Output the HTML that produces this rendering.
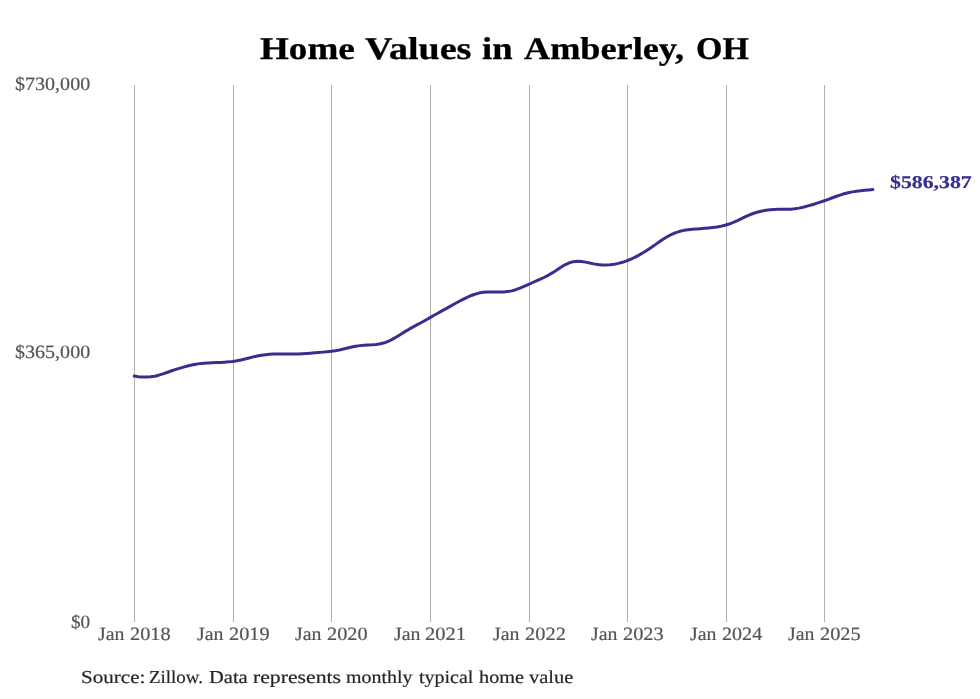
<!DOCTYPE html>
<html lang="en">
<head>
<meta charset="utf-8">
<title>Home Values in Amberley, OH</title>
<style>
html,body{margin:0;padding:0;background:#ffffff;}
#chart{position:relative;width:980px;height:699px;overflow:hidden;background:#ffffff;font-family:"Liberation Serif",serif;}
#chart svg{position:absolute;left:0;top:0;display:block;}
.g{position:absolute;left:0;top:0;margin:0;padding:0;width:980px;height:0;font-family:"Liberation Serif",serif;font-style:normal;text-rendering:geometricPrecision;}
.g span{position:absolute;display:block;white-space:nowrap;transform-origin:0 0;will-change:transform;}
</style>
</head>
<body>
<div id="chart">
<svg width="980" height="699" viewBox="0 0 980 699">
<rect x="0" y="0" width="980" height="699" fill="#ffffff"/>
<g shape-rendering="crispEdges"><rect x="134" y="84.5" width="1" height="537.0" fill="#b0b0b0"/><rect x="233" y="84.5" width="1" height="537.0" fill="#b0b0b0"/><rect x="331" y="84.5" width="1" height="537.0" fill="#b0b0b0"/><rect x="430" y="84.5" width="1" height="537.0" fill="#b0b0b0"/><rect x="529" y="84.5" width="1" height="537.0" fill="#b0b0b0"/><rect x="627" y="84.5" width="1" height="537.0" fill="#b0b0b0"/><rect x="726" y="84.5" width="1" height="537.0" fill="#b0b0b0"/><rect x="824" y="84.5" width="1" height="537.0" fill="#b0b0b0"/></g>
<path d="M134.2 376.10 L138.3 376.67 L142.4 377.03 L146.5 377.09 L150.6 376.83 L154.7 376.19 L158.8 375.19 L162.9 373.92 L167.0 372.50 L171.1 371.03 L175.2 369.65 L179.3 368.32 L183.4 367.08 L187.5 365.95 L191.6 364.97 L195.7 364.20 L199.9 363.63 L204.0 363.23 L208.1 362.97 L212.2 362.78 L216.3 362.61 L220.4 362.41 L224.5 362.18 L228.6 361.87 L232.7 361.41 L236.8 360.78 L240.9 359.95 L245.0 358.99 L249.1 357.94 L253.2 356.90 L257.3 355.97 L261.4 355.22 L265.5 354.65 L269.6 354.28 L273.7 354.06 L277.8 353.97 L281.9 353.92 L286.0 353.90 L290.1 353.91 L294.2 353.93 L298.3 353.88 L302.4 353.74 L306.5 353.51 L310.6 353.20 L314.7 352.84 L318.8 352.48 L323.0 352.13 L327.1 351.77 L331.2 351.32 L335.3 350.70 L339.4 349.92 L343.5 348.99 L347.6 348.00 L351.7 347.04 L355.8 346.23 L359.9 345.63 L364.0 345.23 L368.1 344.97 L372.2 344.73 L376.3 344.39 L380.4 343.81 L384.5 342.78 L388.6 341.22 L392.7 339.17 L396.8 336.78 L400.9 334.19 L405.0 331.62 L409.1 329.17 L413.2 326.90 L417.3 324.69 L421.4 322.49 L425.5 320.25 L429.6 317.93 L433.7 315.57 L437.8 313.23 L441.9 310.90 L446.1 308.60 L450.2 306.32 L454.3 304.05 L458.4 301.80 L462.5 299.59 L466.6 297.55 L470.7 295.72 L474.8 294.22 L478.9 293.09 L483.0 292.35 L487.1 291.98 L491.2 291.89 L495.3 291.99 L499.4 292.09 L503.5 292.00 L507.6 291.61 L511.7 290.86 L515.8 289.71 L519.9 288.21 L524.0 286.43 L528.1 284.58 L532.2 282.75 L536.3 280.96 L540.4 279.16 L544.5 277.24 L548.6 275.08 L552.7 272.63 L556.8 269.92 L560.9 267.19 L565.0 264.76 L569.2 262.87 L573.3 261.66 L577.4 261.21 L581.5 261.42 L585.6 262.11 L589.7 263.01 L593.8 263.89 L597.9 264.58 L602.0 264.99 L606.1 265.03 L610.2 264.74 L614.3 264.18 L618.4 263.39 L622.5 262.31 L626.6 260.93 L630.7 259.26 L634.8 257.33 L638.9 255.14 L643.0 252.74 L647.1 250.19 L651.2 247.48 L655.3 244.63 L659.4 241.77 L663.5 239.04 L667.6 236.54 L671.7 234.39 L675.8 232.63 L679.9 231.31 L684.0 230.35 L688.1 229.68 L692.3 229.26 L696.4 228.97 L700.5 228.69 L704.6 228.36 L708.7 227.95 L712.8 227.47 L716.9 226.92 L721.0 226.22 L725.1 225.28 L729.2 224.04 L733.3 222.45 L737.4 220.56 L741.5 218.54 L745.6 216.57 L749.7 214.78 L753.8 213.26 L757.9 212.03 L762.0 211.05 L766.1 210.30 L770.2 209.78 L774.3 209.47 L778.4 209.35 L782.5 209.32 L786.6 209.29 L790.7 209.14 L794.8 208.76 L798.9 208.11 L803.0 207.21 L807.1 206.12 L811.2 204.94 L815.4 203.69 L819.5 202.37 L823.6 201.00 L827.7 199.55 L831.8 198.03 L835.9 196.51 L840.0 195.07 L844.1 193.80 L848.2 192.72 L852.3 191.87 L856.4 191.20 L860.5 190.70 L864.6 190.30 L868.7 189.95 L872.8 189.60" fill="none" stroke="#372f8f" stroke-width="3.00" stroke-linecap="round" stroke-linejoin="round"/>
</svg>
<h1 class="g" style="font-size:31.60px;line-height:31.60px;color:#000000;font-weight:bold;-webkit-text-stroke:0.30px #000000;"><span style="left:259.93px;top:32.93px;transform:scaleX(1.1743)">Home</span> <span style="left:364.76px;top:32.93px;transform:scaleX(1.2042)">Values</span> <span style="left:482.24px;top:32.93px;transform:scaleX(1.1568)">in</span> <span style="left:523.99px;top:32.93px;transform:scaleX(1.1473)">Amberley,</span> <span style="left:695.51px;top:32.93px;transform:scaleX(1.0741)">OH</span></h1>
<div class="g" style="font-size:18.80px;line-height:18.80px;color:#555555;font-weight:normal;-webkit-text-stroke:0.20px #555555;"><span style="left:14.99px;top:75.55px;transform:scaleX(1.0674)">$730,000</span></div>
<div class="g" style="font-size:18.80px;line-height:18.80px;color:#555555;font-weight:normal;-webkit-text-stroke:0.20px #555555;"><span style="left:14.99px;top:343.56px;transform:scaleX(1.0674)">$365,000</span></div>
<div class="g" style="font-size:18.80px;line-height:18.80px;color:#555555;font-weight:normal;-webkit-text-stroke:0.20px #555555;"><span style="left:71.41px;top:613.55px;transform:scaleX(1.0197)">$0</span></div>
<div class="g" style="font-size:18.00px;line-height:18.00px;color:#372f8f;font-weight:bold;-webkit-text-stroke:0.20px #372f8f;"><span style="left:889.91px;top:173.23px;transform:scaleX(1.2114)">$586,387</span></div>
<div class="g" style="font-size:18.80px;line-height:18.80px;color:#555555;font-weight:normal;-webkit-text-stroke:0.20px #555555;"><span style="left:97.75px;top:625.55px;transform:scaleX(1.0526)">Jan</span> <span style="left:129.57px;top:625.55px;transform:scaleX(1.0808)">2018</span></div>
<div class="g" style="font-size:18.80px;line-height:18.80px;color:#555555;font-weight:normal;-webkit-text-stroke:0.20px #555555;"><span style="left:196.75px;top:625.55px;transform:scaleX(1.0526)">Jan</span> <span style="left:228.53px;top:625.55px;transform:scaleX(1.0842)">2019</span></div>
<div class="g" style="font-size:18.80px;line-height:18.80px;color:#555555;font-weight:normal;-webkit-text-stroke:0.20px #555555;"><span style="left:294.75px;top:625.55px;transform:scaleX(1.0526)">Jan</span> <span style="left:326.57px;top:625.55px;transform:scaleX(1.0795)">2020</span></div>
<div class="g" style="font-size:18.80px;line-height:18.80px;color:#555555;font-weight:normal;-webkit-text-stroke:0.20px #555555;"><span style="left:393.75px;top:625.55px;transform:scaleX(1.0526)">Jan</span> <span style="left:425.44px;top:625.55px;transform:scaleX(1.0923)">2021</span></div>
<div class="g" style="font-size:18.80px;line-height:18.80px;color:#555555;font-weight:normal;-webkit-text-stroke:0.20px #555555;"><span style="left:492.75px;top:625.55px;transform:scaleX(1.0526)">Jan</span> <span style="left:524.50px;top:625.55px;transform:scaleX(1.0878)">2022</span></div>
<div class="g" style="font-size:18.80px;line-height:18.80px;color:#555555;font-weight:normal;-webkit-text-stroke:0.20px #555555;"><span style="left:590.75px;top:625.55px;transform:scaleX(1.0526)">Jan</span> <span style="left:622.55px;top:625.55px;transform:scaleX(1.0833)">2023</span></div>
<div class="g" style="font-size:18.80px;line-height:18.80px;color:#555555;font-weight:normal;-webkit-text-stroke:0.20px #555555;"><span style="left:689.75px;top:625.55px;transform:scaleX(1.0526)">Jan</span> <span style="left:721.61px;top:625.55px;transform:scaleX(1.0699)">2024</span></div>
<div class="g" style="font-size:18.80px;line-height:18.80px;color:#555555;font-weight:normal;-webkit-text-stroke:0.20px #555555;"><span style="left:787.75px;top:625.55px;transform:scaleX(1.0526)">Jan</span> <span style="left:819.55px;top:625.55px;transform:scaleX(1.0830)">2025</span></div>
<p class="g" style="font-size:18.20px;line-height:18.20px;color:#262626;font-weight:normal;-webkit-text-stroke:0.20px #262626;"><span style="left:80.50px;top:668.06px;transform:scaleX(1.1587)">Source:</span> <span style="left:149.22px;top:668.06px;transform:scaleX(1.0409)">Zillow.</span> <span style="left:209.06px;top:668.06px;transform:scaleX(1.1277)">Data</span> <span style="left:252.83px;top:668.06px;transform:scaleX(1.1938)">represents</span> <span style="left:346.02px;top:668.06px;transform:scaleX(1.0969)">monthly</span> <span style="left:418.84px;top:668.06px;transform:scaleX(1.0987)">typical</span> <span style="left:478.93px;top:668.06px;transform:scaleX(1.1135)">home</span> <span style="left:528.85px;top:668.06px;transform:scaleX(1.1245)">value</span></p>
</div>
</body>
</html>
